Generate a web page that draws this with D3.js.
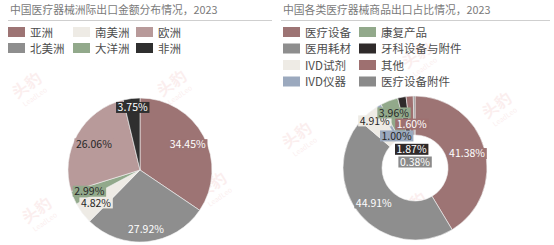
<!DOCTYPE html>
<html>
<head>
<meta charset="utf-8">
<script src="https://cdn.jsdelivr.net/npm/d3@7"></script>
<style>
  body { margin: 0; background: #fff; }
  text { font-family: "Noto Sans CJK SC", "Liberation Sans", sans-serif; }
</style>
</head>
<body>
<script>
// left chart: export share by continent
const regionNames = ["亚洲", "北美洲", "南美洲", "大洋洲", "欧洲", "非洲"];
const regionValues = [34.45, 27.92, 4.82, 2.99, 26.06, 3.75];
const regionColors = ["#9d7474", "#8e8e8e", "#eeebe5", "#92a98b", "#b89a9a", "#2f2f2f"];

// right chart: export share by product type
const productNames = ["医疗设备", "医用耗材", "IVD试剂", "IVD仪器", "康复产品", "牙科设备与附件", "其他", "医疗设备附件"];
const productValues = [41.38, 44.91, 4.91, 1.00, 3.96, 1.87, 1.60, 0.38];
const productColors = ["#9d7474", "#8e8e8e", "#eeebe5", "#9ba9be", "#92a98b", "#2f2a2a", "#9e7070", "#8a8a8a"];

const titles = ["中国医疗器械洲际出口金额分布情况，2023", "中国各类医疗器械商品出口占比情况，2023"];

const W = 554, H = 245;
const svg = d3.select("body").append("svg")
  .attr("width", W)
  .attr("height", H);

// faint watermark
const wm = [[30, 90], [175, 88], [215, 190], [40, 215], [300, 140], [420, 60], [500, 110], [415, 210]];
wm.forEach(p => {
  const g = svg.append("g")
    .attr("transform", `translate(${p[0]},${p[1]}) rotate(-35)`)
    .attr("opacity", 0.08);
  g.append("text").attr("font-size", 16).attr("font-weight", "bold").attr("fill", "#d03030")
    .attr("text-anchor", "middle").text("头豹");
  g.append("text").attr("y", 11).attr("font-size", 7).attr("fill", "#d03030")
    .attr("text-anchor", "middle").text("LeadLeo");
});

const header = (x0, x1, title) => {
  svg.append("text")
    .attr("x", x0 + 2)
    .attr("y", 14)
    .attr("font-size", 10.8)
    .attr("fill", "#7a7a7a")
    .text(title);
  svg.append("line")
    .attr("x1", x0).attr("x2", x1)
    .attr("y1", 20.5).attr("y2", 20.5)
    .attr("stroke", "#cfcfcf")
    .attr("stroke-width", 1);
};

const legend = (names, colors, x0, colX, y0, rowH, rows) => {
  names.forEach((n, i) => {
    const col = Math.floor(i / rows), row = i % rows;
    const g = svg.append("g").attr("transform", `translate(${x0 + colX[col]},${y0 + row * rowH})`);
    g.append("rect").attr("x", 0).attr("y", -5).attr("width", 17).attr("height", 10).attr("fill", colors[i]);
    g.append("text").attr("x", 22).attr("y", 4.5).attr("font-size", 11.5).attr("fill", "#4d4d4d").text(n);
  });
};

const drawPie = (values, colors, cx, cy, rOuter, rInner, labelR, darkText) => {
  const pie = d3.pie().sort(null).value(d => d);
  const arcs = pie(values);
  const arc = d3.arc().innerRadius(rInner).outerRadius(rOuter);
  const g = svg.append("g").attr("transform", `translate(${cx},${cy})`);
  g.selectAll("path")
    .data(arcs)
    .enter()
    .append("path")
    .attr("d", arc)
    .attr("fill", (d, i) => colors[i])
    .attr("stroke", "#f4f4f4")
    .attr("stroke-width", 0.6);

  arcs.forEach((a, i) => {
    const la = d3.arc().innerRadius(labelR[i]).outerRadius(labelR[i]);
    const [x, y] = la.centroid(a);
    const label = values[i].toFixed(2) + "%";
    const lg = g.append("g").attr("transform", `translate(${x},${y})`);
    const t = lg.append("text")
      .attr("text-anchor", "middle")
      .attr("dy", "0.36em")
      .attr("font-family", "Liberation Sans, Arial, sans-serif")
      .attr("font-size", 10.5)
      .attr("fill", darkText[i] ? "#262626" : "#ffffff")
      .text(label);
    const bb = t.node().getBBox();
    lg.insert("rect", "text")
      .attr("x", bb.x - 1.5)
      .attr("y", -5.5)
      .attr("width", bb.width + 3)
      .attr("height", 11)
      .attr("fill", colors[i]);
  });
};

header(8, 272, titles[0]);
header(281, 550, titles[1]);

legend(regionNames, regionColors, 8, [0, 65, 128], 32, 16, 2);
legend(productNames, productColors, 283, [0, 76], 32, 16.5, 4);

drawPie(regionValues, regionColors, 140, 170, 72, 0,
  [54, 60, 55, 55, 53, 63], [false, false, true, true, true, false]);
drawPie(productValues, productColors, 415, 168, 72, 33,
  [54, 54, 62, 37, 59, 19, 44, 6], [false, false, true, true, true, false, false, false]);
</script>
</body>
</html>
